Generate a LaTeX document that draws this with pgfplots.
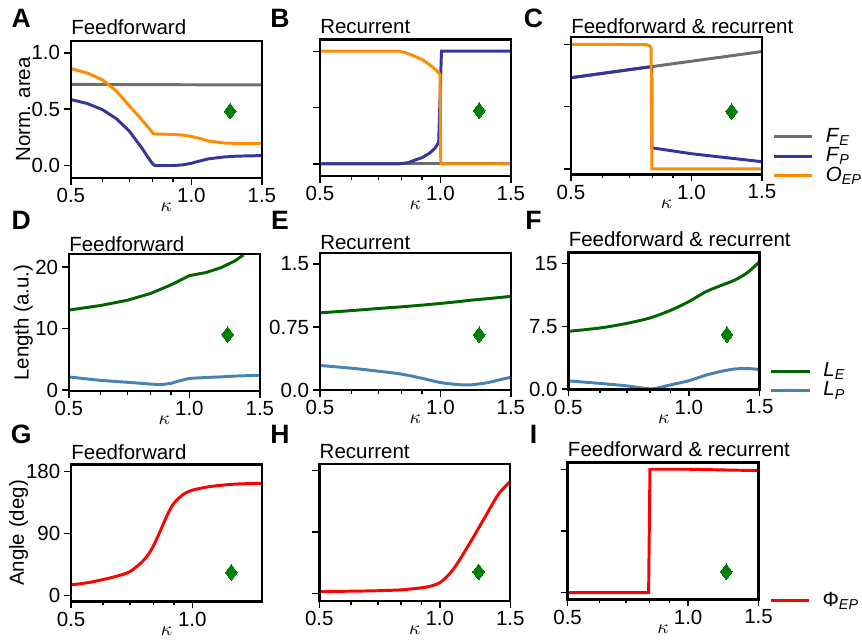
\documentclass[border=0pt]{standalone}
\usepackage{fontspec}
\setmainfont{Liberation Sans}
\usepackage{pgfplots}
\pgfplotsset{compat=1.18}
\definecolor{FEgray}{HTML}{6E6E6E}
\definecolor{FPblue}{HTML}{35359B}
\definecolor{OEPorange}{HTML}{FF8C00}
\definecolor{LEgreen}{HTML}{006400}
\definecolor{LPblue}{HTML}{4682B4}
\definecolor{PhiRed}{HTML}{FF0000}
\definecolor{DGreen}{HTML}{008000}
\newcommand{\lab}{\fontsize{10.4}{12}\selectfont}
\pgfplotsset{
  panel/.style={
    scale only axis, width=97pt, height=69.5pt,
    xmin=0.5, xmax=1.5, clip=false,
    xtick={0.5,1,1.5}, xticklabels={0.5,1.0,1.5},
    minor xtick={0.6,0.7,0.8,0.9},
    tick align=outside, tick pos=left,
    major tick length=3.5pt, minor tick length=2pt,
    tick style={black, line width=0.7pt},
    axis line style={draw=none},
    after end axis/.code={
      \draw[black, line width=1.2pt, line cap=rect]
        (rel axis cs:0,0) -- (rel axis cs:1,0) -- (rel axis cs:1,1) -- (rel axis cs:0,1) -- (rel axis cs:0,0);},
    tick label style={font=\lab},
    xticklabel style={yshift=1.8pt},
    yticklabel style={xshift=1.5pt},
    xlabel={$\kappa$},
    xlabel style={font=\lab, at={(axis description cs:0.5,-0.215)}, anchor=center},
    ylabel style={font=\lab, at={(axis description cs:-0.25,0.5)}, anchor=center},
    every axis title shift=0pt,
    title style={at={(axis description cs:0,1)}, anchor=base west,
      inner sep=0pt, font=\lab},
    every axis plot/.append style={line width=1.5pt},
    legend style={draw=none, fill=none, font=\lab, inner sep=0pt, outer sep=0pt,
      at={(axis description cs:1.055,0)}, anchor=south west, yshift=-5.4pt,
      row sep=0pt, column sep=6.2pt, nodes={inner sep=0pt, minimum height=9.8pt}},
    legend cell align=left,
    legend image code/.code={\draw[##1] (0pt,0pt) -- (19.5pt,0pt);},
  },
  dia/.style={only marks, mark=diamond*, mark size=4pt, forget plot, DGreen,
    mark options={solid, fill=DGreen, draw=DGreen, line width=0pt}},
}
\begin{document}
\begin{tikzpicture}
\path (0pt,0pt) rectangle (431pt,-325.5pt);
% panel letters
\begin{scope}[font=\fontsize{13.5}{14}\bfseries]
\node[anchor=base] at (10.75pt,-14pt) {A};
\node[anchor=base] at (142.25pt,-14pt) {B};
\node[anchor=base] at (271pt,-14pt) {C};
\node[anchor=base] at (10.75pt,-116.5pt) {D};
\node[anchor=base] at (142.25pt,-116.5pt) {E};
\node[anchor=base] at (271pt,-116.5pt) {F};
\node[anchor=base] at (10.75pt,-225.5pt) {G};
\node[anchor=base] at (142.25pt,-225.5pt) {H};
\node[anchor=base] at (271pt,-225.5pt) {I};
\end{scope}

% ---- row 1: normalised area
\begin{axis}[xmode=log, panel, at={(36pt,-20.85pt)}, anchor=north west,
  ymin=-0.11, ymax=1.105, ytick={0,0.5,1}, yticklabels={0.0,0.5,1.0},
  ylabel={Norm. area}, title={Feedforward}, title style={yshift=3.3pt}]
\addplot[FEgray] coordinates {(0.5,0.72)(1.5,0.715)};
\addplot[FPblue] coordinates {(0.5,0.585)(0.55,0.55)(0.6,0.495)(0.65,0.415)(0.7,0.305)(0.75,0.162)(0.78,0.07)(0.80,0.015)(0.81,0.0)(0.9,0.0)(0.95,0.005)(1.0,0.02)(1.05,0.04)(1.1,0.058)(1.2,0.075)(1.3,0.083)(1.5,0.088)};
\addplot[OEPorange] coordinates {(0.5,0.86)(0.55,0.82)(0.6,0.76)(0.65,0.66)(0.7,0.53)(0.75,0.41)(0.78,0.34)(0.805,0.28)(0.85,0.278)(0.9,0.276)(0.95,0.27)(1.0,0.258)(1.05,0.24)(1.1,0.218)(1.2,0.2)(1.3,0.196)(1.5,0.195)};
\addplot[dia] coordinates {(1.25,0.483)};
\end{axis}

\begin{axis}[xmode=log, panel, at={(162.5pt,-20pt)}, anchor=north west,
  ymin=-0.11, ymax=1.105, ytick={0,0.5,1}, yticklabels={},
  title={Recurrent}, title style={yshift=3pt}]
\addplot[FEgray] coordinates {(0.5,0)(1.5,0)};
\addplot[FPblue] coordinates {(0.5,0)(0.79,0)(0.83,0.01)(0.87,0.037)(0.9,0.055)(0.94,0.095)(0.97,0.14)(0.99,0.19)(1.006,1)(1.5,1)};
\addplot[OEPorange] coordinates {(0.5,1)(0.79,1)(0.82,0.985)(0.85,0.965)(0.9,0.925)(0.94,0.88)(0.97,0.84)(0.99,0.81)(0.998,0.79)(1.002,0)(1.5,0)};
\addplot[dia] coordinates {(1.25,0.473)};
\end{axis}

\begin{axis}[xmode=log, panel, at={(290pt,-18.85pt)}, anchor=north west, height=69.8pt,
  ymin=-0.045, ymax=1.058, ytick={0,0.5,1}, yticklabels={},
  title={Feedforward \& recurrent}, title style={yshift=1.7pt}]
\addplot[FEgray] coordinates {(0.5,0.732)(1.5,0.942)};
\addlegendentry{\textit{F}\textsubscript{\textit{E}}}
\addplot[FPblue] coordinates {(0.5,0.732)(0.796,0.822)(0.797,0.17)(0.81,0.166)(1.0,0.122)(1.5,0.058)};
\addlegendentry{\textit{F}\textsubscript{\textit{P}}}
\addplot[OEPorange] coordinates {(0.5,1.0)(0.77,0.998)(0.785,0.99)(0.793,0.97)(0.797,0.0)(1.5,0.0)};
\addlegendentry{\textit{O}\textsubscript{\textit{EP}}}
\addplot[dia] coordinates {(1.26,0.461)};
\end{axis}

% ---- row 2: lengths
\begin{axis}[xmode=log, panel, at={(35pt,-129.15pt)}, anchor=north west,
  ymin=-0.16, ymax=22.07, ytick={0,10,20}, yticklabels={0,10,20},
  ylabel={Length (a.u.)}, ylabel style={at={(axis description cs:-0.238,0.5)}},
  title={Feedforward}, title style={yshift=1.6pt}]
\addplot[LEgreen] coordinates {(0.5,13.0)(0.6,13.75)(0.7,14.6)(0.8,15.7)(0.9,17.1)(1.0,18.6)(1.1,19.1)(1.2,19.9)(1.3,21.0)(1.35,21.75)(1.365,21.95)};
\addplot[LPblue] coordinates {(0.5,2.14)(0.6,1.58)(0.7,1.27)(0.8,0.98)(0.85,0.88)(0.9,1.1)(0.95,1.55)(1.0,1.9)(1.1,2.05)(1.2,2.15)(1.3,2.28)(1.5,2.42)};
\addplot[dia] coordinates {(1.246,9.04)};
\end{axis}

\begin{axis}[xmode=log, panel, at={(162.5pt,-128.65pt)}, anchor=north west,
  ymin=0, ymax=1.626, ytick={0,0.75,1.5}, yticklabels={0.0,0.75,1.5},
  title={Recurrent}, title style={yshift=2pt}]
\addplot[LEgreen, smooth] coordinates {(0.5,0.918)(0.6,0.945)(0.7,0.97)(0.8,0.99)(0.9,1.01)(1.0,1.03)(1.1,1.05)(1.2,1.07)(1.3,1.085)(1.4,1.10)(1.5,1.114)};
\addplot[LPblue, smooth] coordinates {(0.5,0.293)(0.6,0.26)(0.7,0.225)(0.8,0.19)(0.9,0.14)(1.0,0.09)(1.1,0.067)(1.15,0.062)(1.2,0.064)(1.3,0.085)(1.4,0.12)(1.5,0.153)};
\addplot[dia] coordinates {(1.25,0.657)};
\end{axis}

\begin{axis}[xmode=log, panel, at={(288.7pt,-128.3pt)}, anchor=north west,
  ymin=-0.04, ymax=16.3, ytick={0,7.5,15}, yticklabels={0.0,7.5,15},
  title={Feedforward \& recurrent}, title style={yshift=3pt}]
\addplot[LEgreen, smooth] coordinates {(0.5,6.9)(0.6,7.3)(0.7,7.85)(0.8,8.5)(0.9,9.4)(1.0,10.45)(1.1,11.6)(1.2,12.35)(1.3,13.0)(1.4,13.9)(1.5,15.2)};
\addlegendentry{\textit{L}\textsubscript{\textit{E}}}
\addplot[LPblue, smooth] coordinates {(0.5,0.98)(0.6,0.68)(0.7,0.38)(0.8,0.03)(0.85,0.22)(0.9,0.5)(1.0,1.0)(1.1,1.65)(1.2,2.1)(1.3,2.4)(1.4,2.45)(1.5,2.35)};
\addlegendentry{\textit{L}\textsubscript{\textit{P}}}
\addplot[dia] coordinates {(1.245,6.5)};
\end{axis}

% ---- row 3: angles
\begin{axis}[xmode=log, panel, at={(36.1pt,-236pt)}, anchor=north west, xmax=1.49,
  xtick={0.5,1}, xticklabels={0.5,1.0},
  ymin=-8.2, ymax=190, ytick={0,90,180}, yticklabels={0,90,180},
  ylabel={Angle (deg)}, ylabel style={at={(axis description cs:-0.275,0.5)}},
  title={Feedforward}, title style={yshift=2.4pt}]
\addplot[PhiRed, smooth] coordinates {(0.5,15.8)(0.55,19)(0.6,23.5)(0.65,28.5)(0.7,35)(0.75,49)(0.78,61)(0.8,72)(0.83,92)(0.85,106)(0.875,122)(0.9,134)(0.95,147)(1.0,153)(1.1,158)(1.2,160.5)(1.3,162)(1.49,163)};
\addplot[dia] coordinates {(1.25,33.9)};
\end{axis}

\begin{axis}[xmode=log, panel, at={(162.2pt,-235.65pt)}, anchor=north west,
  ymin=-10.5, ymax=189.6, ytick={0,90,180}, yticklabels={},
  title={Recurrent}, title style={yshift=2.7pt}]
\addplot[PhiRed, smooth] coordinates {(0.5,3)(0.6,3.5)(0.7,4.2)(0.8,5.5)(0.9,8.5)(0.95,11)(1.0,16)(1.05,27)(1.1,42)(1.2,78)(1.3,113)(1.4,145)(1.5,164)};
\addplot[dia] coordinates {(1.25,31.7)};
\end{axis}

\begin{axis}[xmode=log, panel, at={(288.3pt,-235pt)}, anchor=north west,
  ymin=-10, ymax=189.6, ytick={0,90,180}, yticklabels={},
  title={Feedforward \& recurrent}, title style={yshift=3.3pt}]
\addplot[PhiRed] coordinates {(0.5,0)(0.797,0)(0.803,180)(1.0,180)(1.5,178)};
\addlegendentry{Φ\textsubscript{\textit{EP}}}
\addplot[dia] coordinates {(1.245,30.6)};
\end{axis}
\end{tikzpicture}
\end{document}
